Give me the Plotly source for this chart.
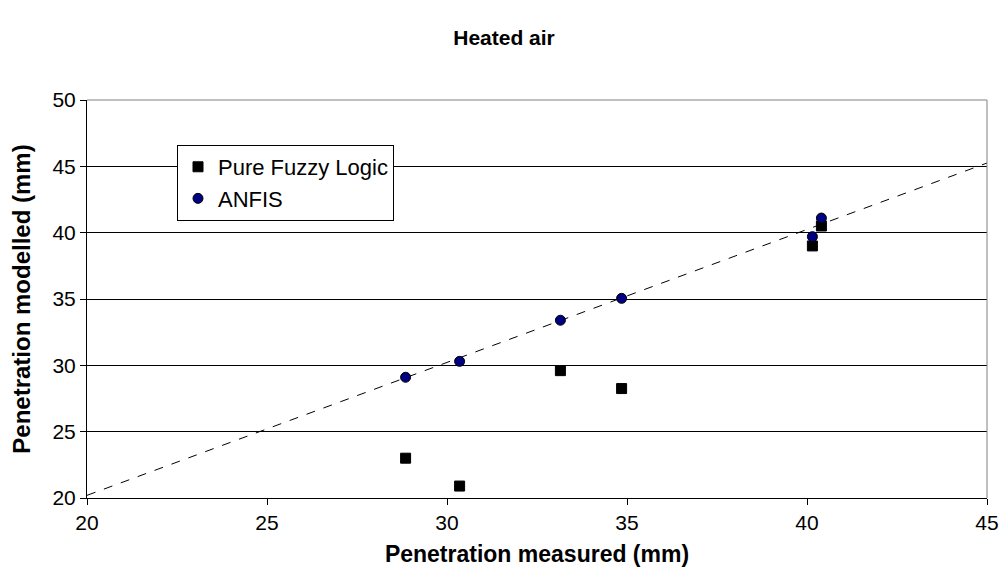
import plotly.graph_objects as go

# Measured vs. modelled penetration (mm)
fuzzy_measured = [28.85, 30.35, 33.15, 34.85, 40.15, 40.4]
fuzzy_modelled = [23.0, 20.9, 29.6, 28.25, 39.0, 40.5]

anfis_measured = [28.85, 30.35, 33.15, 34.85, 40.15, 40.4]
anfis_modelled = [29.1, 30.3, 33.4, 35.05, 39.7, 41.1]

# Linear trend line endpoints
trend_x = [20, 45]
trend_y = [20.2, 45.25]

x_ticks = [20, 25, 30, 35, 40, 45]
y_ticks = [20, 25, 30, 35, 40, 45, 50]

FONT = "Liberation Sans, Arial, sans-serif"
TICK_FS = 21
X_TITLE_FS = 23
Y_TITLE_FS = 24
LEGEND_FS = 22
TITLE_FS = 21

fig = go.Figure()

fig.add_trace(go.Scatter(
    x=trend_x, y=trend_y, mode="lines",
    line=dict(color="black", width=1, dash="dash"),
    showlegend=False, hoverinfo="skip", cliponaxis=False,
))

fig.add_trace(go.Scatter(
    x=fuzzy_measured, y=fuzzy_modelled, mode="markers",
    name="Pure Fuzzy Logic",
    marker=dict(symbol="square", size=10, color="black",
                line=dict(color="black", width=1)),
))

fig.add_trace(go.Scatter(
    x=anfis_measured, y=anfis_modelled, mode="markers",
    name="ANFIS",
    marker=dict(symbol="circle", size=10, color="#000080",
                line=dict(color="black", width=1)),
))

# Gray frame on top and right edges of the plot area
fig.add_shape(type="line", xref="paper", yref="paper", x0=0, x1=1, y0=1, y1=1,
              line=dict(color="#808080", width=1), layer="above")
fig.add_shape(type="line", xref="paper", yref="paper", x0=1, x1=1, y0=0, y1=1,
              line=dict(color="#808080", width=1), layer="above")

fig.update_layout(
    width=1008, height=586,
    margin=dict(l=87, r=21, t=100, b=88),
    paper_bgcolor="white", plot_bgcolor="white",
    font=dict(family=FONT, size=TICK_FS, color="black"),
    title=dict(text="<b>Heated air</b>", x=0.5, xanchor="center",
               y=0.935, yanchor="middle",
               font=dict(family=FONT, size=TITLE_FS, color="black")),
    legend=dict(x=0.1, y=0.887, xanchor="left", yanchor="top",
                bgcolor="white", bordercolor="black", borderwidth=1,
                font=dict(family=FONT, size=LEGEND_FS, color="black"),
                itemsizing="trace", itemwidth=30, tracegroupgap=0),
    showlegend=True,
)

fig.update_xaxes(
    range=[20, 45], tickvals=x_ticks, ticks="outside", ticklen=6,
    tickcolor="black", showline=True, linecolor="black", linewidth=1,
    showgrid=False, zeroline=False, automargin=False,
    tickfont=dict(family=FONT, size=TICK_FS, color="black"),
    title=dict(text="<b>Penetration measured (mm)</b>", standoff=12,
               font=dict(family=FONT, size=X_TITLE_FS, color="black")),
)

fig.update_yaxes(
    range=[20, 50], tickvals=y_ticks, ticks="outside", ticklen=6,
    tickcolor="black", showline=True, linecolor="black", linewidth=1,
    showgrid=True, gridcolor="black", gridwidth=1, zeroline=False,
    automargin=False,
    tickfont=dict(family=FONT, size=TICK_FS, color="black"),
    title=dict(text="<b>Penetration modelled (mm)</b>", standoff=15,
               font=dict(family=FONT, size=Y_TITLE_FS, color="black")),
)

fig.write_html("out.html")
